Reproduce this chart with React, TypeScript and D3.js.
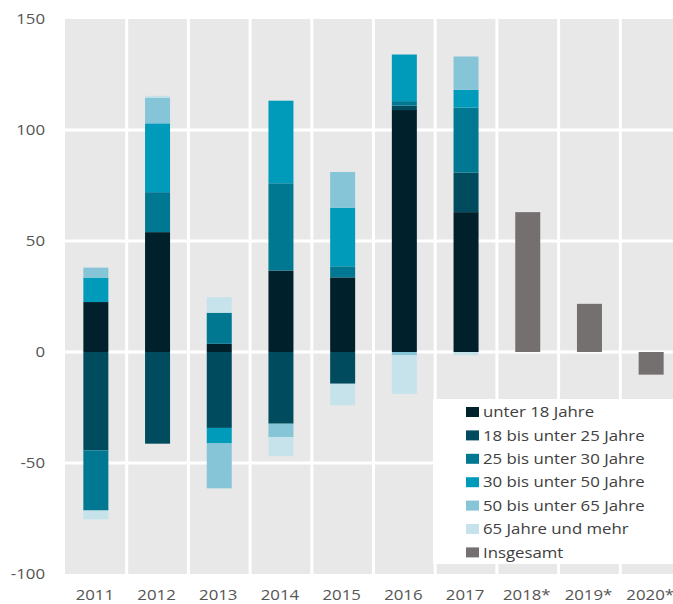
import React from 'react';
import * as d3 from 'd3';

// Years on the x axis (forecast years carry an asterisk)
const years = ['2011', '2012', '2013', '2014', '2015', '2016', '2017', '2018*', '2019*', '2020*'];

// Age groups, stacked from the zero line outwards
const groups = [
  'unter 18 Jahre',
  '18 bis unter 25 Jahre',
  '25 bis unter 30 Jahre',
  '30 bis unter 50 Jahre',
  '50 bis unter 65 Jahre',
  '65 Jahre und mehr',
];
const groupColors = ['#00212b', '#004c5e', '#007891', '#009bbb', '#86c4d7', '#c6e3ec'];

// Values per age group, 2011-2017 (no breakdown for the forecast years)
const unter18 = [22.5, 54, 3.7, 36.7, 33.6, 109, 63];
const bis25 = [-44.3, -41.3, -34.2, -32.3, -14.3, 2, 17.8];
const bis30 = [-27.1, 18, 14, 39.3, 5, 2, 29.3];
const bis50 = [11, 31, -7, 37.2, 26.3, 21, 8];
const bis65 = [4.5, 11.6, -20.2, -6, 16.2, -1.5, 15];
const ab65 = [-4, 0.8, 7, -8.6, -9.7, -17.4, -1.5];

// Totals for the forecast years
const totalYears = ['2018*', '2019*', '2020*'];
const totals = [63, 21.7, -10.2];
const totalLabel = 'Insgesamt';
const totalColor = '#747070';

const yTicks = [-100, -50, 0, 50, 100, 150];

const W = 673;
const H = 604;
const plot = { left: 65, right: 682, top: 19, bottom: 574 };
// the source text is slightly stretched horizontally
const sx = 1.12;

const App: React.FC = () => {
  const x = d3.scaleBand<string>().domain(years).range([plot.left, plot.right]).padding(0);
  const y = d3.scaleLinear().domain([-100, 150]).range([plot.bottom, plot.top]);
  const bw = 25;

  const seriesVals = [unter18, bis25, bis30, bis50, bis65, ab65];
  const rows = years.slice(0, unter18.length).map((yr, i) => {
    const r: Record<string, number | string> = { year: yr };
    groups.forEach((g, k) => (r[g] = seriesVals[k][i]));
    return r;
  });
  const stack = d3.stack<Record<string, number | string>>()
    .keys(groups)
    .value((d, key) => d[key] as number)
    .offset(d3.stackOffsetDiverging);
  const layers = stack(rows);

  const font = '"Open Sans", "Noto Sans", sans-serif';
  const legendItems = [...groups.map((g, i) => ({ label: g, color: groupColors[i] })), { label: totalLabel, color: totalColor }];

  return (
    <svg width={W} height={H} style={{ position: 'absolute', left: 0, top: 0, background: '#fff' }} fontFamily={font}>
      {/* plot background */}
      <rect x={plot.left} y={plot.top} width={plot.right - plot.left} height={plot.bottom - plot.top} fill="#e8e8e8" />
      {/* horizontal gridlines */}
      {yTicks.filter(t => t > -100 && t < 150).map(t => (
        <line key={t} x1={plot.left} x2={plot.right} y1={y(t)} y2={y(t)} stroke="#fff" strokeWidth={3} />
      ))}
      {/* vertical separators between years */}
      {years.slice(1).map(yr => (
        <line key={yr} x1={x(yr)!} x2={x(yr)!} y1={plot.top} y2={plot.bottom} stroke="#fff" strokeWidth={3} />
      ))}

      {/* stacked bars */}
      {layers.map((layer, k) => (
        <g key={groups[k]} fill={groupColors[k]}>
          {layer.map(d => {
            const yr = d.data.year as string;
            const y0 = Math.max(y(d[0]), y(d[1]));
            const y1 = Math.min(y(d[0]), y(d[1]));
            if (y0 - y1 <= 0) return null;
            return <rect key={yr} x={x(yr)! + (x.bandwidth() - bw) / 2} y={y1} width={bw} height={y0 - y1} />;
          })}
        </g>
      ))}

      {/* totals */}
      <g fill={totalColor}>
        {totalYears.map((yr, i) => (
          <rect key={yr} x={x(yr)! + (x.bandwidth() - bw) / 2} y={Math.min(y(0), y(totals[i]))}
            width={bw} height={Math.abs(y(totals[i]) - y(0))} />
        ))}
      </g>

      {/* legend */}
      <rect x={433} y={399} width={260} height={165} fill="#fff" />
      {legendItems.map((it, i) => (
        <g key={it.label} transform={`translate(466,${412 + i * 23.4})`}>
          <rect x={0} y={-5} width={13} height={10} fill={it.color} />
          <text transform={`translate(17,0) scale(${sx},1)`} dy="0.35em" fontSize={15} fill="#404040">{it.label}</text>
        </g>
      ))}

      {/* y axis labels */}
      {yTicks.map(t => (
        <text key={t} transform={`translate(45,${y(t)}) scale(${sx},1)`} dy="0.35em" textAnchor="end" fontSize={15} fill="#555">{t}</text>
      ))}
      {/* x axis labels */}
      {years.map(yr => (
        <text key={yr} transform={`translate(${x(yr)! + x.bandwidth() / 2 - 1},595) scale(${sx},1)`} dy="0.35em" textAnchor="middle" fontSize={15} fill="#555">{yr}</text>
      ))}
    </svg>
  );
};

export default App;
